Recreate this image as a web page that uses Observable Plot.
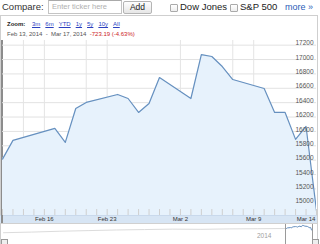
<!DOCTYPE html>
<html>
<head>
<meta charset="utf-8">
<script src="https://cdn.jsdelivr.net/npm/d3@7"></script>
<script src="https://cdn.jsdelivr.net/npm/@observablehq/plot@0.6"></script>
<style>
  html, body { margin: 0; padding: 0; background: #fff; }
  body { width: 320px; height: 244px; overflow: hidden; position: relative; font-family: "Liberation Sans", Arial, sans-serif; }
  .abs { position: absolute; white-space: nowrap; }
  .top { font-size: 9.5px; color: #333; line-height: 14px; top: 0; }
  .cb { position: absolute; width: 6px; height: 6px; border: 1px solid #aaa; border-radius: 1px; background: linear-gradient(#fff, #eee); top: 4px; }
  .zoom a { color: #2a3fbf; text-decoration: underline; margin-left: 5px; font-weight: normal; }
  svg { overflow: visible; }
</style>
</head>
<body>
<div class="abs top" style="left:2px;">Compare:</div>
<div class="abs" style="left:48px;top:0px;width:69px;height:12px;border:1px solid #c4c4c4;border-top-color:#aaa;font-size:7.5px;color:#b0b0b0;line-height:12px;padding-left:3px;box-sizing:content-box;">Enter ticker here</div>
<div class="abs" style="left:123px;top:1px;width:27px;height:11px;border:1px solid #b4b4b4;border-radius:2px;background:linear-gradient(#fefefe,#e6e6e6);font-size:8.5px;color:#222;line-height:11px;text-align:center;">Add</div>
<div class="cb" style="left:170px;"></div>
<div class="abs top" style="left:180px;color:#222;">Dow Jones</div>
<div class="cb" style="left:230px;"></div>
<div class="abs top" style="left:240px;color:#222;">S&amp;P 500</div>
<div class="abs top" style="left:285px;color:#2a5db8;font-size:9px;">more »</div>

<div class="abs" style="left:0;top:15px;width:316px;height:240px;border:1px solid #cfcfcf;"></div>
<div class="abs zoom" style="left:7px;top:20px;font-size:6px;font-weight:bold;color:#222;line-height:8px;">Zoom: <a>3m</a><a>6m</a><a>YTD</a><a>1y</a><a>5y</a><a>10y</a><a>All</a></div>
<div class="abs" style="left:7px;top:30px;font-size:6px;color:#555;line-height:8px;">Feb 13, 2014 &nbsp;-&nbsp; Mar 17, 2014 &nbsp;<span style="color:#cc2222;">-723.19 (-4.63%)</span></div>

<div class="abs" style="left:0;top:215px;width:317px;height:8px;background:#d7e5f4;border-top:1px solid #c9d9ec;box-sizing:border-box;"></div>
<div class="abs" style="left:1px;top:40px;width:2px;height:183px;background:#8c8c8c;"></div>
<div id="main" class="abs" style="left:0;top:38px;"></div>

<div class="abs" style="left:0;top:223px;width:317px;height:1px;background:#d0d0d0;"></div>
<div id="nav" class="abs" style="left:3px;top:224px;"></div>
<div class="abs" style="left:257px;top:232px;font-size:6.5px;color:#a0a0a0;">2014</div>
<div class="abs" style="left:285px;top:224px;width:26px;height:20px;border-left:1px solid #9a9a9a;border-right:1px solid #9a9a9a;background:#fff;"></div>
<div id="win" class="abs" style="left:286px;top:224px;"></div>
<div class="abs" style="left:1px;top:239px;width:5px;height:5px;border:1px solid #999;background:#eee;"></div>
<div class="abs" style="left:312px;top:239px;width:5px;height:5px;border:1px solid #999;background:#eee;"></div>

<script>
// Data (x = calendar days after Feb 13, 2014)
const dates = ["Feb 13","Feb 14","Feb 18","Feb 19","Feb 20","Feb 21","Feb 24","Feb 25","Feb 26","Feb 27","Feb 28",
               "Mar 3","Mar 4","Mar 5","Mar 6","Mar 7","Mar 10","Mar 11","Mar 12","Mar 13","Mar 14","Mar 17"];
const dayIndex = [0, 1, 5, 6, 7, 8, 11, 12, 13, 14, 15, 18, 19, 20, 21, 22, 25, 26, 27, 28, 29, 30];
const closes = [15615, 15875, 16042, 15847, 16319, 16403, 16514, 16458, 16264, 16389, 16750,
                16458, 17069, 17042, 16903, 16722, 16597, 16264, 16264, 15889, 16069, 14897];

const yTicks = [15000, 15200, 15400, 15600, 15800, 16000, 16200, 16400, 16600, 16800, 17000, 17200];
const xTickDays = [4, 10, 17, 24, 29];
const xTickLabels = ["Feb 16", "Feb 23", "Mar 2", "Mar 9", "Mar 14"];
const gridDays = [2, 4, 8, 10, 17, 22, 24];
const minorTickDays = d3.range(0, 31);

// faint long-history line in navigator (estimated)
const navHistory = [13600, 13900, 14300, 14600, 14900, 15100, 15300, 15200, 15400, 15500, 15600];

const data = dayIndex.map((d, i) => ({day: d, date: dates[i], close: closes[i]}));

const main = Plot.plot({
  width: 320, height: 185,
  marginLeft: 2, marginRight: 4, marginTop: 2, marginBottom: 8,
  x: {domain: [0, 30], axis: null},
  y: {domain: [14830, 17265], axis: null},
  style: {background: "transparent", fontFamily: "Liberation Sans, Arial, sans-serif", fontSize: "6px", color: "#333"},
  marks: [
    Plot.gridY(yTicks, {stroke: "#e2e2e2", strokeOpacity: 1}),
    Plot.gridX(gridDays, {stroke: "#e4e4e4", strokeOpacity: 1}),
    Plot.areaY(data, {x: "day", y: "close", fill: "#e7f2fc", clip: true}),
    Plot.lineY(data, {x: "day", y: "close", stroke: "#6690bf", strokeWidth: 1.2, clip: true}),
    Plot.tickX(minorTickDays, {x: d => d, stroke: "#cfcfcf", insetTop: 169}),
    Plot.text(yTicks, {y: d => d, text: d => String(d), frameAnchor: "right", textAnchor: "end", dx: -3, dy: -2, fill: "#555", fontSize: 6.5}),
    Plot.axisX(xTickDays, {tickSize: 0, tickPadding: 1.5, tickFormat: d => xTickLabels[xTickDays.indexOf(d)], fill: "#333", label: null})
  ]
});
document.getElementById("main").appendChild(main);

const nav = Plot.plot({
  width: 282, height: 20, margin: 0,
  x: {domain: [0, navHistory.length - 1], axis: null},
  y: {domain: [8000, 17500], axis: null},
  style: {background: "transparent"},
  marks: [
    Plot.lineY(navHistory, {x: (d, i) => i, y: d => d, stroke: "#dcdcdc", strokeWidth: 1})
  ]
});
document.getElementById("nav").appendChild(nav);

const win = Plot.plot({
  width: 25, height: 20, margin: 0,
  x: {domain: [0, 30], axis: null},
  y: {domain: [8000, 17500], axis: null},
  style: {background: "transparent"},
  marks: [
    Plot.lineY(data, {x: "day", y: "close", stroke: "#6690bf", strokeWidth: 1})
  ]
});
document.getElementById("win").appendChild(win);
</script>
</body>
</html>
